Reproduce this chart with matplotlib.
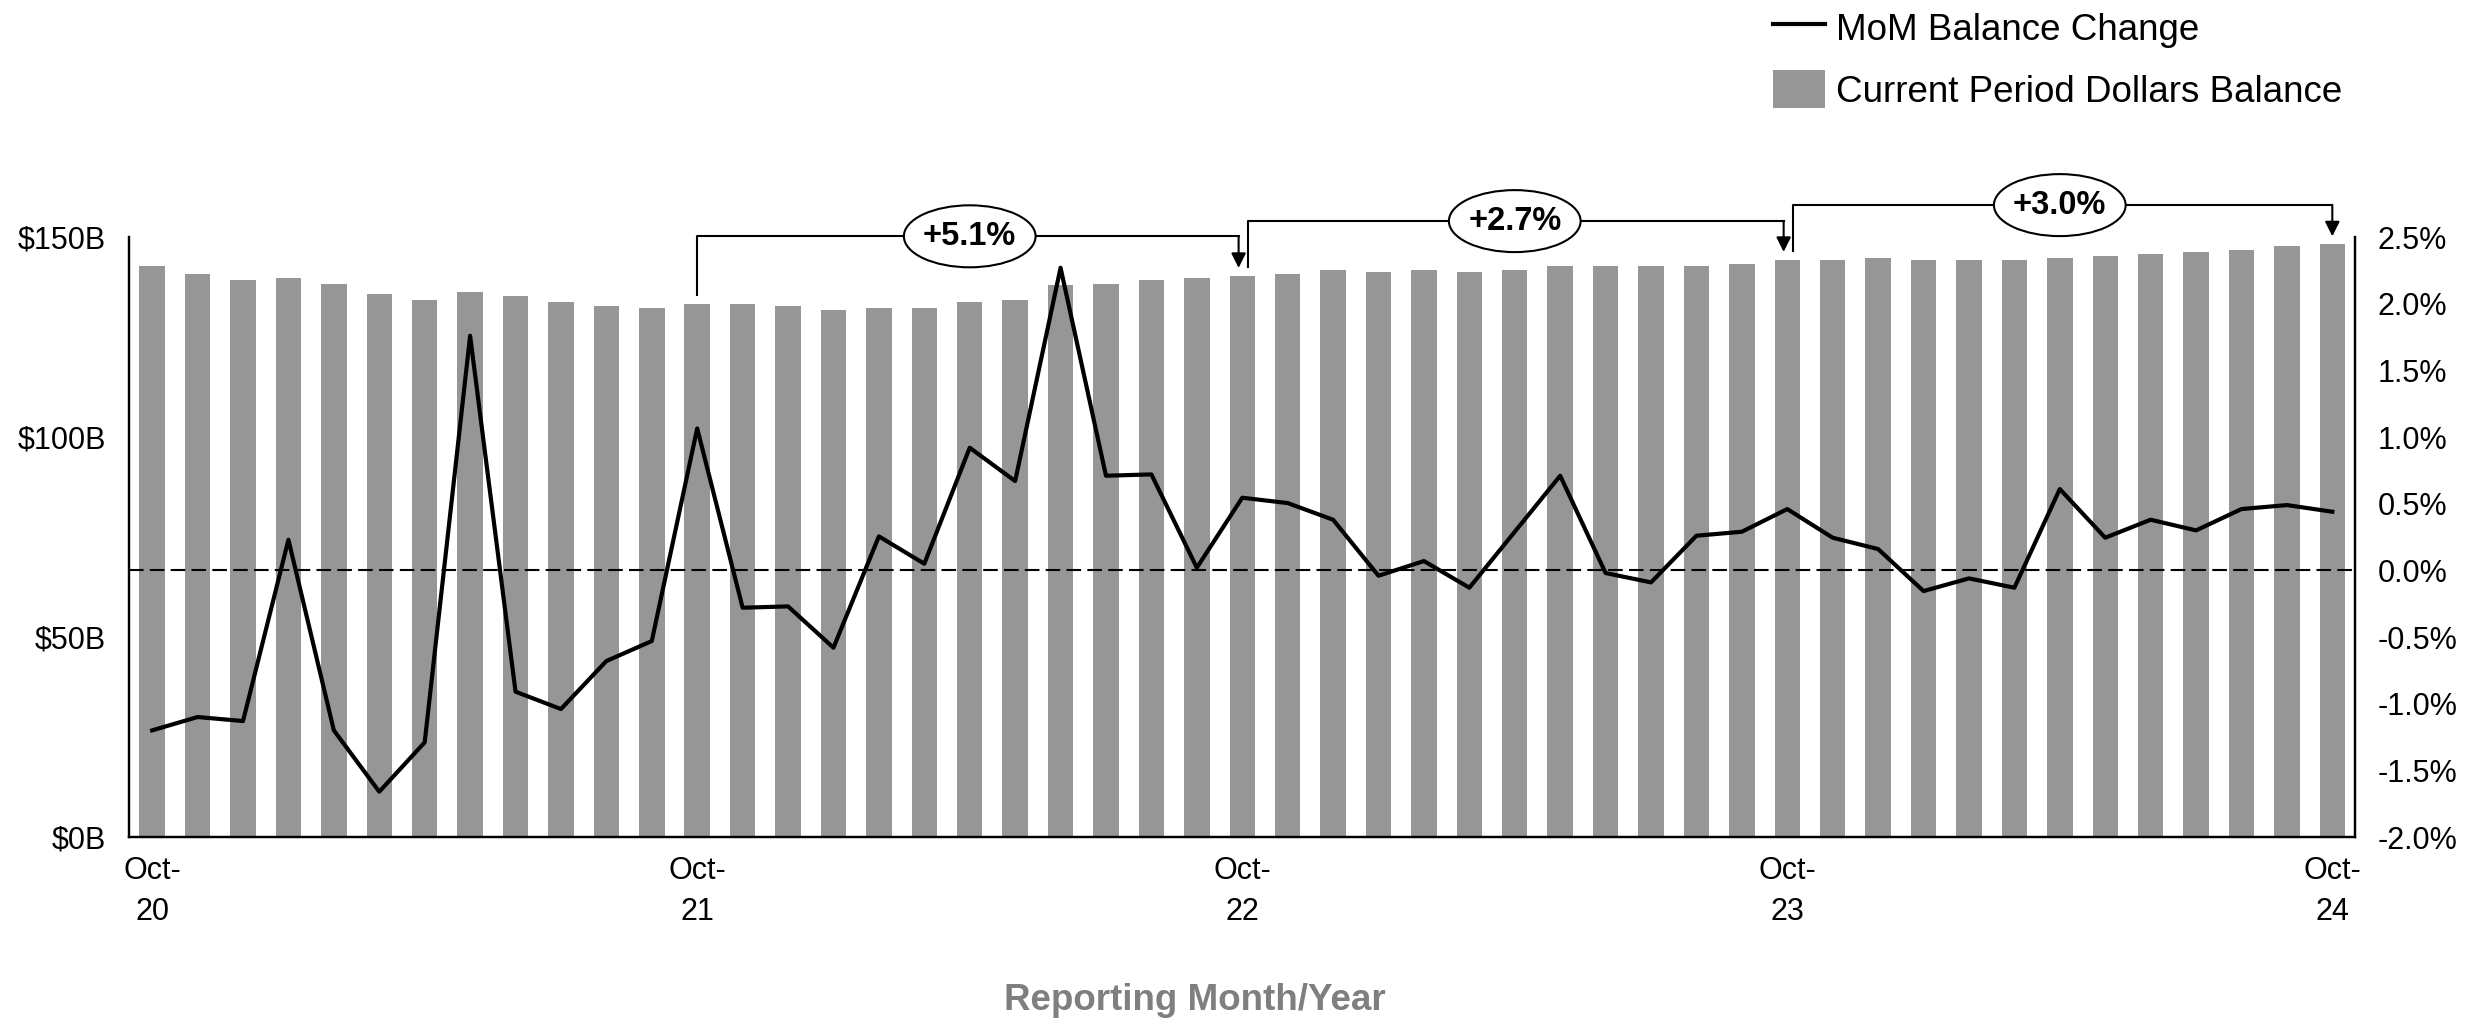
import matplotlib
matplotlib.use('Agg')
import matplotlib.pyplot as plt
from matplotlib.lines import Line2D
from matplotlib.patches import Patch, Ellipse

plt.rcParams['font.family'] = ['Liberation Sans', 'DejaVu Sans']

# monthly labels Oct-20 .. Oct-24
mes = ['Oct', 'Nov', 'Dec', 'Jan', 'Feb', 'Mar', 'Apr', 'May', 'Jun', 'Jul', 'Aug', 'Sep']
meses = []
for i in range(49):
    ano = 20 + (i + 9) // 12
    meses.append(mes[i % 12] + '-' + str(ano))

# Current Period Dollars Balance ($B)
balance = [142.8, 140.7, 139.2, 139.7, 138.2, 135.7, 134.2, 136.3, 135.3, 133.8, 132.7, 132.3, 133.3,
           133.3, 132.7, 131.7, 132.3, 132.3, 133.8, 134.2, 137.9, 138.2, 139.2, 139.7, 140.3, 140.8,
           141.7, 141.3, 141.7, 141.3, 141.7, 142.8, 142.8, 142.8, 142.8, 143.3, 144.3, 144.3, 144.7,
           144.3, 144.3, 144.3, 144.7, 145.3, 145.7, 146.3, 146.9, 147.8, 148.2]

# MoM Balance Change (%)
mom = [-1.20, -1.10, -1.13, 0.23, -1.20, -1.66, -1.29, 1.76, -0.91, -1.04, -0.68, -0.53, 1.065,
       -0.28, -0.27, -0.58, 0.255, 0.05, 0.92, 0.67, 2.27, 0.71, 0.72, 0.02, 0.545, 0.505,
       0.38, -0.04, 0.07, -0.13, 0.29, 0.71, -0.02, -0.09, 0.26, 0.29, 0.46, 0.245, 0.16,
       -0.155, -0.06, -0.13, 0.61, 0.245, 0.38, 0.30, 0.46, 0.49, 0.44]

# year over year brackets
yoy_inicio = [12, 24, 36]
yoy_fim = [24, 36, 48]
yoy_labels = ['+5.1%', '+2.7%', '+3.0%']

cinza = '#969696'

fig = plt.figure(figsize=(24.66, 10.22), dpi=100)
ax = fig.add_axes([0.0525, 0.181, 0.9025, 0.587])
ax2 = ax.twinx()

x = list(range(len(meses)))
ax.bar(x, balance, width=0.56, color=cinza, zorder=2)
ax.set_xlim(-0.5, len(meses) - 0.5)
ax.set_ylim(0, 150)
ax.set_yticks([0, 50, 100, 150])
ax.set_yticklabels(['$0B', '$50B', '$100B', '$150B'])

pos = [i for i in x if i % 12 == 0]
ax.set_xticks(pos)
ax.set_xticklabels([meses[i].replace('-', '-\n') for i in pos], linespacing=1.45)

ax2.plot(x, mom, color='black', lw=3.0, zorder=3)
ax2.axhline(0, color='black', lw=1.5, linestyle=(0, (7, 3)), zorder=2)
ax2.set_ylim(-2.0, 2.5)
tks = [-2.0 + 0.5 * i for i in range(10)]
ax2.set_yticks(tks)
ax2.set_yticklabels(['%.1f%%' % t for t in tks])

for a in [ax, ax2]:
    a.spines['top'].set_visible(False)
    for s in ['left', 'right', 'bottom']:
        a.spines[s].set_linewidth(1.6)
    a.tick_params(length=0, labelsize=22)
ax.tick_params(axis='y', pad=17)
ax.tick_params(axis='x', pad=14)
ax2.tick_params(axis='y', pad=16)

# brackets
niveis = [150.2, 154.0, 158.0]
for k in range(len(yoy_inicio)):
    i0 = yoy_inicio[k]
    i1 = yoy_fim[k]
    x0 = i0 + (0.12 if k > 0 else 0)
    x1 = i1 - (0.08 if k < len(yoy_inicio) - 1 else 0)
    nv = niveis[k]
    ax.plot([x0, x0, x1], [balance[i0] + 2.3, nv, nv], color='black', lw=1.5,
            clip_on=False, zorder=4)
    ax.annotate('', xy=(x1, balance[i1] + 2.0), xytext=(x1, nv),
                arrowprops=dict(arrowstyle='-|>', color='black', lw=1.5,
                                mutation_scale=22, shrinkA=0, shrinkB=0),
                annotation_clip=False, zorder=4)
    meio = (i0 + i1) / 2
    ax.add_patch(Ellipse((meio, nv), 2.9, 15.5, facecolor='white', edgecolor='black',
                         lw=1.5, clip_on=False, zorder=5))
    ax.text(meio, nv, yoy_labels[k], ha='center', va='center', fontsize=23.5,
            fontweight='bold', zorder=6, clip_on=False)

ax.set_zorder(1)
ax2.set_zorder(2)
ax.patch.set_visible(False)

handles = [Line2D([0], [0], color='black', lw=3.0),
           Patch(facecolor=cinza, edgecolor='none')]
fig.legend(handles, ['MoM Balance Change', 'Current Period Dollars Balance'],
           loc='upper left', bbox_to_anchor=(0.716, 0.999), frameon=False,
           fontsize=26.5, handlelength=1.4, handleheight=1.2, handletextpad=0.3,
           labelspacing=0.62, borderpad=0.2, borderaxespad=0)

fig.text(0.4846, 0.0215, 'Reporting Month/Year', ha='center', va='center',
         fontsize=26.5, fontweight='bold', color='#7f7f7f')

fig.savefig('out.png', dpi=100)
